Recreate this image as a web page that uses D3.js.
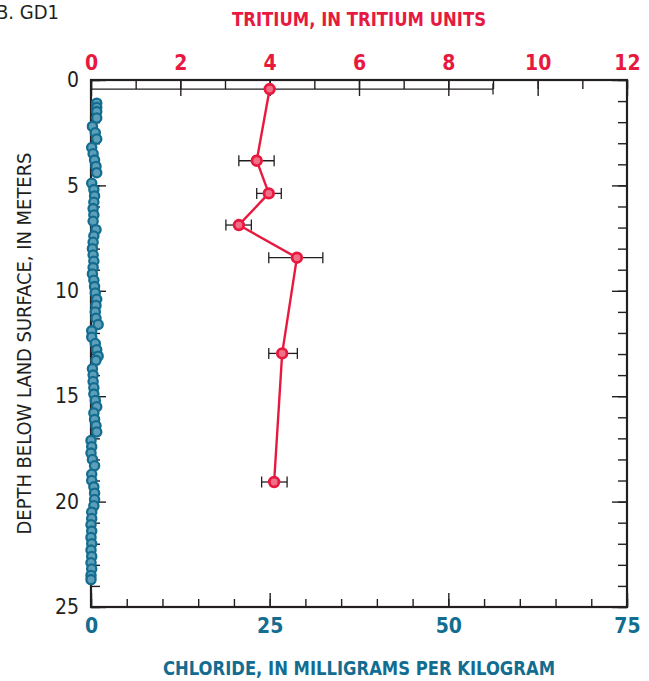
<!DOCTYPE html>
<html>
<head>
<meta charset="utf-8">
<script src="https://cdn.jsdelivr.net/npm/d3@7"></script>
<style>
  body { margin: 0; background: #fff; }
  svg { display: block; }
  text { font-family: "Liberation Sans Narrow", "DejaVu Sans Condensed", "Roboto Condensed", sans-serif; font-stretch: condensed; }
</style>
</head>
<body>
<div id="chart"></div>
<script>
// tritium profile (depth m, TU, error low/high)
const tritiumDepth = [0.43, 3.83, 5.38, 6.88, 8.43, 12.97, 19.07];
const tritiumValue = [4.0, 3.71, 3.98, 3.31, 4.61, 4.28, 4.10];
const tritiumLow   = [0.0, 3.31, 3.71, 3.02, 3.98, 3.98, 3.82];
const tritiumHigh  = [9.0, 4.10, 4.26, 3.59, 5.19, 4.62, 4.39];

// chloride profile (depth m, mg/kg)
const chlorideDepth = [1.1, 1.3, 1.5, 1.8, 2.2, 2.5, 2.8, 3.2, 3.5, 3.8, 4.1, 4.4,
  4.9, 5.2, 5.5, 5.8, 6.1, 6.4, 6.7, 7.1, 7.4, 7.7, 8.0, 8.3, 8.6,
  8.9, 9.2, 9.5, 9.8, 10.1, 10.4, 10.7, 11.0, 11.3, 11.6, 11.9, 12.2, 12.5, 12.8, 13.1, 13.3,
  13.7, 14.0, 14.3, 14.6, 14.9, 15.2, 15.5, 15.8, 16.1, 16.4, 16.7,
  17.1, 17.4, 17.7, 18.0, 18.3, 18.7, 19.0, 19.3, 19.6, 19.9, 20.2,
  20.5, 20.8, 21.1, 21.4, 21.7, 22.0, 22.3, 22.6, 22.9, 23.2, 23.5, 23.7];
const chlorideValue = [0.8, 0.8, 0.8, 0.8, 0.2, 0.6, 0.8, 0.1, 0.3, 0.5, 0.7, 0.8,
  0.1, 0.4, 0.5, 0.4, 0.3, 0.4, 0.3, 0.7, 0.4, 0.3, 0.2, 0.3, 0.4,
  0.3, 0.2, 0.4, 0.5, 0.6, 0.8, 0.7, 0.6, 0.7, 1.0, 0.1, 0.1, 0.6, 0.8, 1.0, 0.7,
  0.2, 0.3, 0.3, 0.4, 0.4, 0.6, 0.8, 0.4, 0.5, 0.7, 0.8,
  0.0, 0.1, 0.0, 0.2, 0.5, 0.1, 0.1, 0.4, 0.5, 0.5, 0.4,
  0.1, 0.1, 0.0, 0.1, 0.0, 0.1, 0.0, 0.1, 0.0, 0.1, 0.0, 0.0];

const depthTicks = [0, 5, 10, 15, 20, 25];
const tritiumTicks = [0, 2, 4, 6, 8, 10, 12];
const chlorideTicks = [0, 25, 50, 75];

const red = "#e8193f", blue = "#136d90", ink = "#231f20";
const width = 649, height = 681;
const margin = { top: 80, right: 22, bottom: 74, left: 91 };

const svg = d3.select("#chart").append("svg")
  .attr("width", width)
  .attr("height", height);

const y = d3.scaleLinear().domain([0, 25]).range([margin.top, height - margin.bottom]);
const xT = d3.scaleLinear().domain([0, 12]).range([margin.left, width - margin.right]);
const xC = d3.scaleLinear().domain([0, 75]).range([margin.left, width - margin.right]);

const x0 = margin.left, x1 = width - margin.right;
const y0 = margin.top, y1 = height - margin.bottom;

// minor + major ticks, all pointing inward
function drawAxis(axis, tf, cls) {
  const g = svg.append("g").attr("class", cls).attr("transform", tf).call(axis);
  g.select(".domain").remove();
  g.selectAll(".tick line").attr("stroke", ink).attr("stroke-width", 1.4);
  return g;
}

drawAxis(d3.axisLeft(y).ticks(25).tickSize(-9).tickFormat(""), `translate(${x0},0)`, "yminor");
drawAxis(d3.axisLeft(y).tickValues(depthTicks).tickSize(-15).tickPadding(12), `translate(${x0},0)`, "ymajor")
  .selectAll("text").attr("font-size", 21).attr("fill", ink);
drawAxis(d3.axisRight(y).ticks(25).tickSize(-9).tickFormat(""), `translate(${x1},0)`, "yrminor");
drawAxis(d3.axisRight(y).tickValues(depthTicks).tickSize(-15).tickFormat(""), `translate(${x1},0)`, "yrmajor");

drawAxis(d3.axisTop(xT).ticks(12).tickSize(-9).tickFormat(""), `translate(0,${y0})`, "tminor");
drawAxis(d3.axisTop(xT).tickValues(tritiumTicks).tickSize(-16).tickPadding(10), `translate(0,${y0})`, "tmajor")
  .selectAll("text").attr("font-size", 21).attr("font-weight", "bold").attr("fill", red);

drawAxis(d3.axisBottom(xC).ticks(15).tickSize(-8).tickFormat(""), `translate(0,${y1})`, "cminor");
drawAxis(d3.axisBottom(xC).tickValues(chlorideTicks).tickSize(-14).tickPadding(11), `translate(0,${y1})`, "cmajor")
  .selectAll("text").attr("font-size", 21).attr("font-weight", "bold").attr("fill", blue);

// frame
svg.append("rect")
  .attr("x", x0).attr("y", y0)
  .attr("width", x1 - x0).attr("height", y1 - y0)
  .attr("fill", "none").attr("stroke", ink).attr("stroke-width", 2.2);

// chloride circles
const chloride = chlorideDepth.map((d, i) => ({ depth: d, value: chlorideValue[i] }));
svg.append("g").selectAll("circle")
  .data(chloride)
  .enter().append("circle")
  .attr("cx", d => xC(d.value))
  .attr("cy", d => y(d.depth))
  .attr("r", 4.6)
  .attr("fill", "#5d9fb9")
  .attr("stroke", blue)
  .attr("stroke-width", 2.3);

// tritium error bars
const tritium = tritiumDepth.map((d, i) => ({
  depth: d, value: tritiumValue[i], lo: tritiumLow[i], hi: tritiumHigh[i]
}));
const err = svg.append("g").attr("stroke", ink).attr("stroke-width", 1.3);
err.selectAll("line.bar").data(tritium).enter().append("line")
  .attr("class", "bar")
  .attr("x1", d => xT(d.lo)).attr("x2", d => xT(d.hi))
  .attr("y1", d => y(d.depth)).attr("y2", d => y(d.depth));
err.selectAll("line.lcap").data(tritium).enter().append("line")
  .attr("class", "lcap")
  .attr("x1", d => xT(d.lo)).attr("x2", d => xT(d.lo))
  .attr("y1", d => y(d.depth) - 5.5).attr("y2", d => y(d.depth) + 5.5);
err.selectAll("line.rcap").data(tritium).enter().append("line")
  .attr("class", "rcap")
  .attr("x1", d => xT(d.hi)).attr("x2", d => xT(d.hi))
  .attr("y1", d => y(d.depth) - 5.5).attr("y2", d => y(d.depth) + 5.5);

// tritium line + points
const line = d3.line().x(d => xT(d.value)).y(d => y(d.depth));
svg.append("path")
  .datum(tritium)
  .attr("d", line)
  .attr("fill", "none")
  .attr("stroke", red)
  .attr("stroke-width", 2.4);

svg.append("g").selectAll("circle")
  .data(tritium)
  .enter().append("circle")
  .attr("cx", d => xT(d.value))
  .attr("cy", d => y(d.depth))
  .attr("r", 4.8)
  .attr("fill", "#ef7088")
  .attr("stroke", red)
  .attr("stroke-width", 2.8);

// titles
svg.append("text")
  .attr("x", -4).attr("y", 19)
  .attr("font-size", 20).attr("fill", ink)
  .text("B. GD1");

svg.append("text")
  .attr("x", (x0 + x1) / 2).attr("y", 26)
  .attr("text-anchor", "middle")
  .attr("font-size", 20).attr("font-weight", "bold").attr("fill", red)
  .attr("textLength", 254).attr("lengthAdjust", "spacingAndGlyphs")
  .text("TRITIUM, IN TRITIUM UNITS");

svg.append("text")
  .attr("x", (x0 + x1) / 2).attr("y", 675)
  .attr("text-anchor", "middle")
  .attr("font-size", 20).attr("font-weight", "bold").attr("fill", blue)
  .attr("textLength", 392).attr("lengthAdjust", "spacingAndGlyphs")
  .text("CHLORIDE, IN MILLIGRAMS PER KILOGRAM");

svg.append("text")
  .attr("transform", `translate(31,${(y0 + y1) / 2}) rotate(-90)`)
  .attr("text-anchor", "middle")
  .attr("font-size", 19).attr("fill", ink)
  .attr("textLength", 382).attr("lengthAdjust", "spacingAndGlyphs")
  .text("DEPTH BELOW LAND SURFACE, IN METERS");
</script>
</body>
</html>
